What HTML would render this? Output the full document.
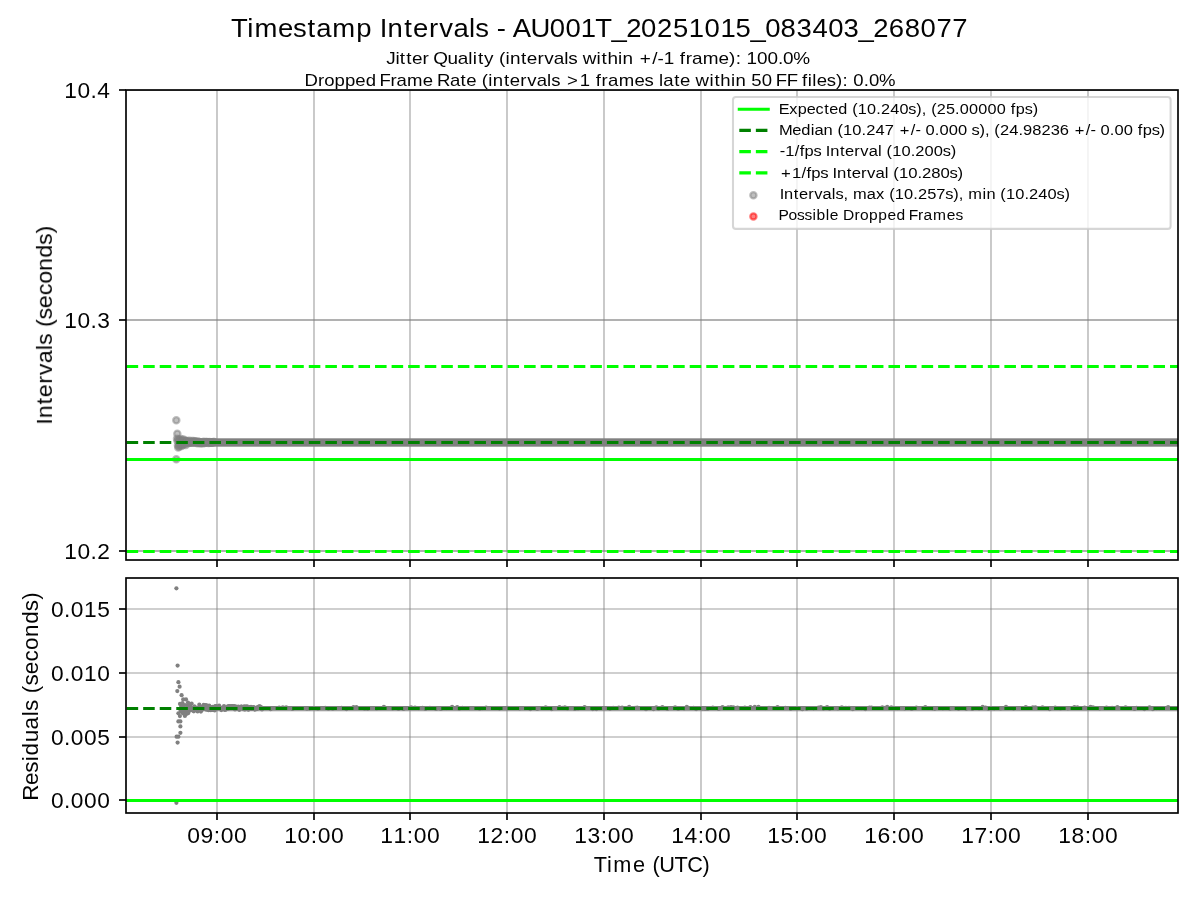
<!DOCTYPE html>
<html lang="en"><head><meta charset="utf-8"><title>Timestamp Intervals - AU001T_20251015_083403_268077</title>
<style>html,body{margin:0;padding:0;background:#fff;}body{width:1200px;height:900px;overflow:hidden;font-family:"Liberation Sans",sans-serif;}svg{display:block;}text{font-family:"Liberation Sans",sans-serif;fill:#000;}</style>
</head><body>
<svg width="1200" height="900" viewBox="0 0 1200 900">
<defs><clipPath id="c1"><rect x="126" y="90" width="1052" height="470"/></clipPath><clipPath id="c2"><rect x="126" y="578" width="1052" height="235"/></clipPath></defs>
<rect x="0" y="0" width="1200" height="900" fill="#ffffff"/>
<g clip-path="url(#c1)">
<line x1="217" y1="90" x2="217" y2="560" stroke="#808080" stroke-opacity="0.5" stroke-width="1.667"/>
<line x1="314" y1="90" x2="314" y2="560" stroke="#808080" stroke-opacity="0.5" stroke-width="1.667"/>
<line x1="410" y1="90" x2="410" y2="560" stroke="#808080" stroke-opacity="0.5" stroke-width="1.667"/>
<line x1="507" y1="90" x2="507" y2="560" stroke="#808080" stroke-opacity="0.5" stroke-width="1.667"/>
<line x1="604" y1="90" x2="604" y2="560" stroke="#808080" stroke-opacity="0.5" stroke-width="1.667"/>
<line x1="701" y1="90" x2="701" y2="560" stroke="#808080" stroke-opacity="0.5" stroke-width="1.667"/>
<line x1="797" y1="90" x2="797" y2="560" stroke="#808080" stroke-opacity="0.5" stroke-width="1.667"/>
<line x1="894" y1="90" x2="894" y2="560" stroke="#808080" stroke-opacity="0.5" stroke-width="1.667"/>
<line x1="991" y1="90" x2="991" y2="560" stroke="#808080" stroke-opacity="0.5" stroke-width="1.667"/>
<line x1="1088" y1="90" x2="1088" y2="560" stroke="#808080" stroke-opacity="0.5" stroke-width="1.667"/>
<line x1="126" y1="90" x2="1178" y2="90" stroke="#808080" stroke-opacity="0.5" stroke-width="1.667"/>
<line x1="126" y1="90" x2="1178" y2="90" stroke="#808080" stroke-opacity="0.5" stroke-width="1.667"/>
<line x1="126" y1="320" x2="1178" y2="320" stroke="#808080" stroke-opacity="0.5" stroke-width="1.667"/>
<line x1="126" y1="320" x2="1178" y2="320" stroke="#808080" stroke-opacity="0.5" stroke-width="1.667"/>
<line x1="126" y1="551" x2="1178" y2="551" stroke="#808080" stroke-opacity="0.5" stroke-width="1.667"/>
<line x1="126" y1="551" x2="1178" y2="551" stroke="#808080" stroke-opacity="0.5" stroke-width="1.667"/>
<circle cx="176.3" cy="420.3" r="3.10" fill="#808080" fill-opacity="0.5" stroke="#808080" stroke-opacity="0.5" stroke-width="2.30"/>
<circle cx="177.3" cy="433.7" r="3.10" fill="#808080" fill-opacity="0.5" stroke="#808080" stroke-opacity="0.5" stroke-width="2.30"/>
<circle cx="176.3" cy="459.3" r="3.10" fill="#808080" fill-opacity="0.5" stroke="#808080" stroke-opacity="0.5" stroke-width="2.30"/>
<circle cx="177.0" cy="438.8" r="3.10" fill="#808080" fill-opacity="0.5" stroke="#808080" stroke-opacity="0.5" stroke-width="2.30"/>
<circle cx="177.6" cy="441.0" r="3.10" fill="#808080" fill-opacity="0.5" stroke="#808080" stroke-opacity="0.5" stroke-width="2.30"/>
<circle cx="178.2" cy="447.6" r="3.10" fill="#808080" fill-opacity="0.5" stroke="#808080" stroke-opacity="0.5" stroke-width="2.30"/>
<circle cx="177.9" cy="445.2" r="3.10" fill="#808080" fill-opacity="0.5" stroke="#808080" stroke-opacity="0.5" stroke-width="2.30"/>
<circle cx="178.6" cy="439.6" r="3.10" fill="#808080" fill-opacity="0.5" stroke="#808080" stroke-opacity="0.5" stroke-width="2.30"/>
<circle cx="179.0" cy="443.0" r="3.10" fill="#808080" fill-opacity="0.5" stroke="#808080" stroke-opacity="0.5" stroke-width="2.30"/>
<circle cx="179.4" cy="446.6" r="3.10" fill="#808080" fill-opacity="0.5" stroke="#808080" stroke-opacity="0.5" stroke-width="2.30"/>
<circle cx="179.9" cy="440.2" r="3.10" fill="#808080" fill-opacity="0.5" stroke="#808080" stroke-opacity="0.5" stroke-width="2.30"/>
<circle cx="180.4" cy="444.4" r="3.10" fill="#808080" fill-opacity="0.5" stroke="#808080" stroke-opacity="0.5" stroke-width="2.30"/>
<circle cx="181.0" cy="438.9" r="3.10" fill="#808080" fill-opacity="0.5" stroke="#808080" stroke-opacity="0.5" stroke-width="2.30"/>
<circle cx="181.6" cy="446.0" r="3.10" fill="#808080" fill-opacity="0.5" stroke="#808080" stroke-opacity="0.5" stroke-width="2.30"/>
<circle cx="182.2" cy="441.5" r="3.10" fill="#808080" fill-opacity="0.5" stroke="#808080" stroke-opacity="0.5" stroke-width="2.30"/>
<circle cx="182.9" cy="445.0" r="3.10" fill="#808080" fill-opacity="0.5" stroke="#808080" stroke-opacity="0.5" stroke-width="2.30"/>
<circle cx="183.5" cy="439.6" r="3.10" fill="#808080" fill-opacity="0.5" stroke="#808080" stroke-opacity="0.5" stroke-width="2.30"/>
<circle cx="184.2" cy="443.7" r="3.10" fill="#808080" fill-opacity="0.5" stroke="#808080" stroke-opacity="0.5" stroke-width="2.30"/>
<circle cx="185.0" cy="440.4" r="3.10" fill="#808080" fill-opacity="0.5" stroke="#808080" stroke-opacity="0.5" stroke-width="2.30"/>
<circle cx="185.8" cy="445.1" r="3.10" fill="#808080" fill-opacity="0.5" stroke="#808080" stroke-opacity="0.5" stroke-width="2.30"/>
<circle cx="186.5" cy="441.2" r="3.10" fill="#808080" fill-opacity="0.5" stroke="#808080" stroke-opacity="0.5" stroke-width="2.30"/>
<circle cx="187.0" cy="441.7" r="3.10" fill="#808080" fill-opacity="0.5" stroke="#808080" stroke-opacity="0.5" stroke-width="2.30"/>
<circle cx="187.8" cy="440.9" r="3.10" fill="#808080" fill-opacity="0.5" stroke="#808080" stroke-opacity="0.5" stroke-width="2.30"/>
<circle cx="188.6" cy="443.1" r="3.10" fill="#808080" fill-opacity="0.5" stroke="#808080" stroke-opacity="0.5" stroke-width="2.30"/>
<circle cx="189.4" cy="440.8" r="3.10" fill="#808080" fill-opacity="0.5" stroke="#808080" stroke-opacity="0.5" stroke-width="2.30"/>
<circle cx="190.2" cy="442.6" r="3.10" fill="#808080" fill-opacity="0.5" stroke="#808080" stroke-opacity="0.5" stroke-width="2.30"/>
<circle cx="191.0" cy="442.0" r="3.10" fill="#808080" fill-opacity="0.5" stroke="#808080" stroke-opacity="0.5" stroke-width="2.30"/>
<circle cx="191.8" cy="441.0" r="3.10" fill="#808080" fill-opacity="0.5" stroke="#808080" stroke-opacity="0.5" stroke-width="2.30"/>
<circle cx="192.6" cy="442.5" r="3.10" fill="#808080" fill-opacity="0.5" stroke="#808080" stroke-opacity="0.5" stroke-width="2.30"/>
<circle cx="193.4" cy="441.1" r="3.10" fill="#808080" fill-opacity="0.5" stroke="#808080" stroke-opacity="0.5" stroke-width="2.30"/>
<circle cx="194.2" cy="442.3" r="3.10" fill="#808080" fill-opacity="0.5" stroke="#808080" stroke-opacity="0.5" stroke-width="2.30"/>
<circle cx="195.0" cy="441.3" r="3.10" fill="#808080" fill-opacity="0.5" stroke="#808080" stroke-opacity="0.5" stroke-width="2.30"/>
<circle cx="195.8" cy="441.4" r="3.10" fill="#808080" fill-opacity="0.5" stroke="#808080" stroke-opacity="0.5" stroke-width="2.30"/>
<circle cx="196.6" cy="442.3" r="3.10" fill="#808080" fill-opacity="0.5" stroke="#808080" stroke-opacity="0.5" stroke-width="2.30"/>
<circle cx="197.4" cy="443.3" r="3.10" fill="#808080" fill-opacity="0.5" stroke="#808080" stroke-opacity="0.5" stroke-width="2.30"/>
<circle cx="198.2" cy="441.6" r="3.10" fill="#808080" fill-opacity="0.5" stroke="#808080" stroke-opacity="0.5" stroke-width="2.30"/>
<circle cx="199.0" cy="441.9" r="3.10" fill="#808080" fill-opacity="0.5" stroke="#808080" stroke-opacity="0.5" stroke-width="2.30"/>
<circle cx="199.8" cy="442.8" r="3.10" fill="#808080" fill-opacity="0.5" stroke="#808080" stroke-opacity="0.5" stroke-width="2.30"/>
<circle cx="200.6" cy="443.4" r="3.10" fill="#808080" fill-opacity="0.5" stroke="#808080" stroke-opacity="0.5" stroke-width="2.30"/>
<circle cx="201.4" cy="442.6" r="3.10" fill="#808080" fill-opacity="0.5" stroke="#808080" stroke-opacity="0.5" stroke-width="2.30"/>
<circle cx="202.2" cy="442.3" r="3.10" fill="#808080" fill-opacity="0.5" stroke="#808080" stroke-opacity="0.5" stroke-width="2.30"/>
<circle cx="203.0" cy="443.3" r="3.10" fill="#808080" fill-opacity="0.5" stroke="#808080" stroke-opacity="0.5" stroke-width="2.30"/>
<circle cx="203.8" cy="441.8" r="3.10" fill="#808080" fill-opacity="0.5" stroke="#808080" stroke-opacity="0.5" stroke-width="2.30"/>
<circle cx="204.6" cy="443.1" r="3.10" fill="#808080" fill-opacity="0.5" stroke="#808080" stroke-opacity="0.5" stroke-width="2.30"/>
<circle cx="205.4" cy="442.2" r="3.10" fill="#808080" fill-opacity="0.5" stroke="#808080" stroke-opacity="0.5" stroke-width="2.30"/>
<circle cx="206.2" cy="442.0" r="3.10" fill="#808080" fill-opacity="0.5" stroke="#808080" stroke-opacity="0.5" stroke-width="2.30"/>
<circle cx="207.0" cy="442.0" r="3.10" fill="#808080" fill-opacity="0.5" stroke="#808080" stroke-opacity="0.5" stroke-width="2.30"/>
<circle cx="207.8" cy="442.3" r="3.10" fill="#808080" fill-opacity="0.5" stroke="#808080" stroke-opacity="0.5" stroke-width="2.30"/>
<circle cx="208.6" cy="442.9" r="3.10" fill="#808080" fill-opacity="0.5" stroke="#808080" stroke-opacity="0.5" stroke-width="2.30"/>
<circle cx="209.4" cy="442.1" r="3.10" fill="#808080" fill-opacity="0.5" stroke="#808080" stroke-opacity="0.5" stroke-width="2.30"/>
<circle cx="210.2" cy="442.6" r="3.10" fill="#808080" fill-opacity="0.5" stroke="#808080" stroke-opacity="0.5" stroke-width="2.30"/>
<circle cx="211.0" cy="442.7" r="3.10" fill="#808080" fill-opacity="0.5" stroke="#808080" stroke-opacity="0.5" stroke-width="2.30"/>
<circle cx="211.8" cy="442.4" r="3.10" fill="#808080" fill-opacity="0.5" stroke="#808080" stroke-opacity="0.5" stroke-width="2.30"/>
<circle cx="212.6" cy="442.5" r="3.10" fill="#808080" fill-opacity="0.5" stroke="#808080" stroke-opacity="0.5" stroke-width="2.30"/>
<circle cx="213.4" cy="442.1" r="3.10" fill="#808080" fill-opacity="0.5" stroke="#808080" stroke-opacity="0.5" stroke-width="2.30"/>
<circle cx="214.2" cy="442.1" r="3.10" fill="#808080" fill-opacity="0.5" stroke="#808080" stroke-opacity="0.5" stroke-width="2.30"/>
<rect x="186" y="438.3" width="998" height="8.4" fill="#808080"/>
<line x1="126" y1="459.5" x2="1178" y2="459.5" stroke="#00ff00" stroke-width="3.125"/>
<line x1="126" y1="442.5" x2="1178" y2="442.5" stroke="#008000" stroke-width="3.125" stroke-dasharray="11.562 5.000" stroke-dashoffset="-0.6"/>
<line x1="126" y1="551.5" x2="1178" y2="551.5" stroke="#00ff00" stroke-width="3.125" stroke-dasharray="11.562 5.000" stroke-dashoffset="-0.6"/>
<line x1="126" y1="366.5" x2="1178" y2="366.5" stroke="#00ff00" stroke-width="3.125" stroke-dasharray="11.562 5.000" stroke-dashoffset="-0.6"/>
</g>
<line x1="217" y1="560" x2="217" y2="567.00" stroke="#000" stroke-width="1.667"/>
<line x1="314" y1="560" x2="314" y2="567.00" stroke="#000" stroke-width="1.667"/>
<line x1="410" y1="560" x2="410" y2="567.00" stroke="#000" stroke-width="1.667"/>
<line x1="507" y1="560" x2="507" y2="567.00" stroke="#000" stroke-width="1.667"/>
<line x1="604" y1="560" x2="604" y2="567.00" stroke="#000" stroke-width="1.667"/>
<line x1="701" y1="560" x2="701" y2="567.00" stroke="#000" stroke-width="1.667"/>
<line x1="797" y1="560" x2="797" y2="567.00" stroke="#000" stroke-width="1.667"/>
<line x1="894" y1="560" x2="894" y2="567.00" stroke="#000" stroke-width="1.667"/>
<line x1="991" y1="560" x2="991" y2="567.00" stroke="#000" stroke-width="1.667"/>
<line x1="1088" y1="560" x2="1088" y2="567.00" stroke="#000" stroke-width="1.667"/>
<line x1="119.00" y1="90" x2="126" y2="90" stroke="#000" stroke-width="1.667"/>
<line x1="119.00" y1="320" x2="126" y2="320" stroke="#000" stroke-width="1.667"/>
<line x1="119.00" y1="551" x2="126" y2="551" stroke="#000" stroke-width="1.667"/>
<rect x="126" y="90" width="1052" height="470" fill="none" stroke="#000" stroke-width="1.667"/>
<rect x="733.0" y="97.0" width="437.6" height="131.9" rx="2.9" ry="2.9" fill="#ffffff" fill-opacity="0.8" stroke="#cccccc" stroke-opacity="0.8" stroke-width="2.08"/>
<line x1="739.3" y1="109.2" x2="768.2" y2="109.2" stroke="#00ff00" stroke-width="3.125" stroke-linecap="square"/>
<line x1="739.3" y1="130.4" x2="768.2" y2="130.4" stroke="#008000" stroke-width="3.125" stroke-dasharray="11.562 5.000"/>
<line x1="739.3" y1="151.6" x2="768.2" y2="151.6" stroke="#00ff00" stroke-width="3.125" stroke-dasharray="11.562 5.000"/>
<line x1="739.3" y1="172.9" x2="768.2" y2="172.9" stroke="#00ff00" stroke-width="3.125" stroke-dasharray="11.562 5.000"/>
<circle cx="753.4" cy="195.3" r="3.10" fill="#808080" fill-opacity="0.5" stroke="#808080" stroke-opacity="0.5" stroke-width="2.30"/>
<circle cx="753.4" cy="216.4" r="3.10" fill="#ff0000" fill-opacity="0.5" stroke="#ff0000" stroke-opacity="0.5" stroke-width="2.30"/>
<g clip-path="url(#c2)">
<line x1="217" y1="578" x2="217" y2="813" stroke="#808080" stroke-opacity="0.5" stroke-width="1.667"/>
<line x1="314" y1="578" x2="314" y2="813" stroke="#808080" stroke-opacity="0.5" stroke-width="1.667"/>
<line x1="410" y1="578" x2="410" y2="813" stroke="#808080" stroke-opacity="0.5" stroke-width="1.667"/>
<line x1="507" y1="578" x2="507" y2="813" stroke="#808080" stroke-opacity="0.5" stroke-width="1.667"/>
<line x1="604" y1="578" x2="604" y2="813" stroke="#808080" stroke-opacity="0.5" stroke-width="1.667"/>
<line x1="701" y1="578" x2="701" y2="813" stroke="#808080" stroke-opacity="0.5" stroke-width="1.667"/>
<line x1="797" y1="578" x2="797" y2="813" stroke="#808080" stroke-opacity="0.5" stroke-width="1.667"/>
<line x1="894" y1="578" x2="894" y2="813" stroke="#808080" stroke-opacity="0.5" stroke-width="1.667"/>
<line x1="991" y1="578" x2="991" y2="813" stroke="#808080" stroke-opacity="0.5" stroke-width="1.667"/>
<line x1="1088" y1="578" x2="1088" y2="813" stroke="#808080" stroke-opacity="0.5" stroke-width="1.667"/>
<line x1="126" y1="609" x2="1178" y2="609" stroke="#808080" stroke-opacity="0.5" stroke-width="1.667"/>
<line x1="126" y1="673" x2="1178" y2="673" stroke="#808080" stroke-opacity="0.5" stroke-width="1.667"/>
<line x1="126" y1="737" x2="1178" y2="737" stroke="#808080" stroke-opacity="0.5" stroke-width="1.667"/>
<line x1="126" y1="800" x2="1178" y2="800" stroke="#808080" stroke-opacity="0.5" stroke-width="1.667"/>
<circle cx="176.4" cy="588.3" r="2.1" fill="#808080"/>
<circle cx="177.6" cy="665.6" r="2.1" fill="#808080"/>
<circle cx="178.4" cy="682.2" r="2.1" fill="#808080"/>
<circle cx="179.6" cy="686.7" r="2.1" fill="#808080"/>
<circle cx="177.3" cy="691.1" r="2.1" fill="#808080"/>
<circle cx="181.6" cy="695.2" r="2.1" fill="#808080"/>
<circle cx="183.2" cy="699.4" r="2.1" fill="#808080"/>
<circle cx="186.0" cy="699.4" r="2.1" fill="#808080"/>
<circle cx="178.4" cy="713.3" r="2.1" fill="#808080"/>
<circle cx="179.9" cy="716.1" r="2.1" fill="#808080"/>
<circle cx="184.9" cy="716.0" r="2.1" fill="#808080"/>
<circle cx="178.4" cy="721.4" r="2.1" fill="#808080"/>
<circle cx="180.4" cy="721.4" r="2.1" fill="#808080"/>
<circle cx="180.4" cy="726.4" r="2.1" fill="#808080"/>
<circle cx="180.4" cy="732.8" r="2.1" fill="#808080"/>
<circle cx="176.6" cy="736.7" r="2.1" fill="#808080"/>
<circle cx="178.4" cy="736.7" r="2.1" fill="#808080"/>
<circle cx="177.6" cy="742.6" r="2.1" fill="#808080"/>
<circle cx="176.4" cy="802.8" r="2.1" fill="#808080"/>
<circle cx="182.5" cy="703.0" r="2.1" fill="#808080"/>
<circle cx="181.0" cy="711.5" r="2.1" fill="#808080"/>
<circle cx="183.0" cy="713.5" r="2.1" fill="#808080"/>
<circle cx="186.5" cy="714.0" r="2.1" fill="#808080"/>
<circle cx="188.0" cy="702.5" r="2.1" fill="#808080"/>
<circle cx="180.0" cy="703.9" r="2.1" fill="#808080"/>
<circle cx="180.6" cy="710.5" r="2.1" fill="#808080"/>
<circle cx="181.1" cy="707.0" r="2.1" fill="#808080"/>
<circle cx="181.7" cy="705.5" r="2.1" fill="#808080"/>
<circle cx="182.2" cy="709.1" r="2.1" fill="#808080"/>
<circle cx="182.8" cy="707.4" r="2.1" fill="#808080"/>
<circle cx="183.3" cy="705.5" r="2.1" fill="#808080"/>
<circle cx="183.9" cy="711.6" r="2.1" fill="#808080"/>
<circle cx="184.4" cy="710.4" r="2.1" fill="#808080"/>
<circle cx="185.0" cy="705.0" r="2.1" fill="#808080"/>
<circle cx="185.5" cy="708.9" r="2.1" fill="#808080"/>
<circle cx="186.1" cy="708.3" r="2.1" fill="#808080"/>
<circle cx="186.6" cy="712.2" r="2.1" fill="#808080"/>
<circle cx="187.2" cy="710.5" r="2.1" fill="#808080"/>
<circle cx="187.7" cy="705.7" r="2.1" fill="#808080"/>
<circle cx="188.3" cy="713.1" r="2.1" fill="#808080"/>
<circle cx="188.8" cy="704.0" r="2.1" fill="#808080"/>
<circle cx="189.4" cy="707.2" r="2.1" fill="#808080"/>
<circle cx="189.9" cy="710.6" r="2.1" fill="#808080"/>
<circle cx="190.5" cy="704.6" r="2.1" fill="#808080"/>
<circle cx="191.0" cy="707.9" r="2.1" fill="#808080"/>
<circle cx="191.6" cy="703.6" r="2.1" fill="#808080"/>
<circle cx="192.1" cy="709.6" r="2.1" fill="#808080"/>
<circle cx="192.7" cy="710.4" r="2.1" fill="#808080"/>
<circle cx="193.2" cy="708.7" r="2.1" fill="#808080"/>
<circle cx="193.8" cy="711.3" r="2.1" fill="#808080"/>
<circle cx="194.3" cy="706.4" r="2.1" fill="#808080"/>
<circle cx="194.9" cy="709.7" r="2.1" fill="#808080"/>
<circle cx="195.4" cy="708.8" r="2.1" fill="#808080"/>
<circle cx="196.0" cy="708.7" r="2.1" fill="#808080"/>
<circle cx="196.5" cy="707.6" r="2.1" fill="#808080"/>
<circle cx="197.1" cy="710.7" r="2.1" fill="#808080"/>
<circle cx="197.6" cy="711.5" r="2.1" fill="#808080"/>
<circle cx="198.2" cy="707.8" r="2.1" fill="#808080"/>
<circle cx="198.7" cy="709.3" r="2.1" fill="#808080"/>
<circle cx="199.3" cy="704.7" r="2.1" fill="#808080"/>
<circle cx="199.8" cy="709.5" r="2.1" fill="#808080"/>
<circle cx="200.4" cy="709.1" r="2.1" fill="#808080"/>
<circle cx="200.9" cy="711.6" r="2.1" fill="#808080"/>
<circle cx="201.5" cy="710.3" r="2.1" fill="#808080"/>
<circle cx="202.0" cy="706.5" r="2.1" fill="#808080"/>
<circle cx="202.6" cy="707.2" r="2.1" fill="#808080"/>
<circle cx="203.1" cy="709.2" r="2.1" fill="#808080"/>
<circle cx="203.7" cy="704.8" r="2.1" fill="#808080"/>
<circle cx="204.2" cy="707.7" r="2.1" fill="#808080"/>
<circle cx="204.8" cy="705.8" r="2.1" fill="#808080"/>
<circle cx="205.3" cy="705.5" r="2.1" fill="#808080"/>
<circle cx="205.9" cy="705.2" r="2.1" fill="#808080"/>
<circle cx="206.4" cy="709.7" r="2.1" fill="#808080"/>
<circle cx="207.0" cy="705.7" r="2.1" fill="#808080"/>
<circle cx="207.5" cy="706.4" r="2.1" fill="#808080"/>
<circle cx="208.1" cy="707.3" r="2.1" fill="#808080"/>
<circle cx="208.6" cy="710.2" r="2.1" fill="#808080"/>
<circle cx="209.2" cy="705.5" r="2.1" fill="#808080"/>
<circle cx="209.7" cy="707.7" r="2.1" fill="#808080"/>
<circle cx="210.3" cy="708.3" r="2.1" fill="#808080"/>
<circle cx="210.8" cy="710.2" r="2.1" fill="#808080"/>
<circle cx="211.4" cy="709.8" r="2.1" fill="#808080"/>
<circle cx="211.9" cy="710.0" r="2.1" fill="#808080"/>
<circle cx="212.5" cy="706.8" r="2.1" fill="#808080"/>
<circle cx="213.0" cy="707.5" r="2.1" fill="#808080"/>
<circle cx="213.6" cy="707.2" r="2.1" fill="#808080"/>
<circle cx="214.1" cy="710.0" r="2.1" fill="#808080"/>
<circle cx="214.7" cy="710.4" r="2.1" fill="#808080"/>
<circle cx="215.2" cy="706.2" r="2.1" fill="#808080"/>
<circle cx="215.8" cy="706.3" r="2.1" fill="#808080"/>
<circle cx="216.3" cy="706.6" r="2.1" fill="#808080"/>
<circle cx="216.9" cy="706.7" r="2.1" fill="#808080"/>
<circle cx="217.4" cy="707.9" r="2.1" fill="#808080"/>
<circle cx="218.0" cy="708.4" r="2.1" fill="#808080"/>
<circle cx="218.5" cy="706.8" r="2.1" fill="#808080"/>
<circle cx="219.1" cy="705.6" r="2.1" fill="#808080"/>
<circle cx="219.6" cy="707.6" r="2.1" fill="#808080"/>
<circle cx="220.2" cy="707.4" r="2.1" fill="#808080"/>
<circle cx="220.7" cy="708.3" r="2.1" fill="#808080"/>
<circle cx="221.3" cy="710.1" r="2.1" fill="#808080"/>
<circle cx="221.8" cy="708.9" r="2.1" fill="#808080"/>
<circle cx="222.4" cy="708.1" r="2.1" fill="#808080"/>
<circle cx="222.9" cy="708.5" r="2.1" fill="#808080"/>
<circle cx="223.5" cy="708.8" r="2.1" fill="#808080"/>
<circle cx="224.0" cy="706.0" r="2.1" fill="#808080"/>
<circle cx="224.6" cy="709.8" r="2.1" fill="#808080"/>
<circle cx="225.1" cy="709.2" r="2.1" fill="#808080"/>
<circle cx="225.7" cy="709.6" r="2.1" fill="#808080"/>
<circle cx="226.2" cy="709.3" r="2.1" fill="#808080"/>
<circle cx="226.8" cy="707.5" r="2.1" fill="#808080"/>
<circle cx="227.3" cy="707.6" r="2.1" fill="#808080"/>
<circle cx="227.9" cy="706.3" r="2.1" fill="#808080"/>
<circle cx="228.4" cy="708.6" r="2.1" fill="#808080"/>
<circle cx="229.0" cy="706.2" r="2.1" fill="#808080"/>
<circle cx="229.5" cy="706.2" r="2.1" fill="#808080"/>
<circle cx="230.1" cy="706.8" r="2.1" fill="#808080"/>
<circle cx="230.6" cy="706.6" r="2.1" fill="#808080"/>
<circle cx="231.2" cy="707.3" r="2.1" fill="#808080"/>
<circle cx="231.7" cy="706.2" r="2.1" fill="#808080"/>
<circle cx="232.3" cy="706.0" r="2.1" fill="#808080"/>
<circle cx="232.8" cy="706.6" r="2.1" fill="#808080"/>
<circle cx="233.4" cy="706.4" r="2.1" fill="#808080"/>
<circle cx="233.9" cy="707.5" r="2.1" fill="#808080"/>
<circle cx="234.5" cy="706.1" r="2.1" fill="#808080"/>
<circle cx="235.0" cy="709.5" r="2.1" fill="#808080"/>
<circle cx="235.6" cy="708.4" r="2.1" fill="#808080"/>
<circle cx="236.1" cy="706.6" r="2.1" fill="#808080"/>
<circle cx="236.7" cy="707.0" r="2.1" fill="#808080"/>
<circle cx="237.2" cy="707.4" r="2.1" fill="#808080"/>
<circle cx="237.8" cy="707.5" r="2.1" fill="#808080"/>
<circle cx="238.3" cy="706.6" r="2.1" fill="#808080"/>
<circle cx="238.9" cy="709.3" r="2.1" fill="#808080"/>
<circle cx="239.4" cy="709.8" r="2.1" fill="#808080"/>
<circle cx="240.0" cy="707.9" r="2.1" fill="#808080"/>
<circle cx="240.5" cy="707.9" r="2.1" fill="#808080"/>
<circle cx="241.1" cy="706.5" r="2.1" fill="#808080"/>
<circle cx="241.6" cy="706.5" r="2.1" fill="#808080"/>
<circle cx="242.2" cy="707.4" r="2.1" fill="#808080"/>
<circle cx="242.7" cy="707.1" r="2.1" fill="#808080"/>
<circle cx="243.3" cy="709.2" r="2.1" fill="#808080"/>
<circle cx="243.8" cy="706.8" r="2.1" fill="#808080"/>
<circle cx="244.4" cy="706.3" r="2.1" fill="#808080"/>
<circle cx="244.9" cy="709.6" r="2.1" fill="#808080"/>
<circle cx="245.5" cy="708.1" r="2.1" fill="#808080"/>
<circle cx="246.0" cy="706.7" r="2.1" fill="#808080"/>
<circle cx="246.6" cy="708.2" r="2.1" fill="#808080"/>
<circle cx="247.1" cy="706.3" r="2.1" fill="#808080"/>
<circle cx="247.7" cy="708.1" r="2.1" fill="#808080"/>
<circle cx="248.2" cy="709.7" r="2.1" fill="#808080"/>
<circle cx="248.8" cy="709.3" r="2.1" fill="#808080"/>
<circle cx="249.3" cy="708.7" r="2.1" fill="#808080"/>
<circle cx="249.9" cy="707.2" r="2.1" fill="#808080"/>
<circle cx="250.4" cy="707.5" r="2.1" fill="#808080"/>
<circle cx="251.0" cy="706.9" r="2.1" fill="#808080"/>
<circle cx="251.5" cy="708.9" r="2.1" fill="#808080"/>
<circle cx="252.1" cy="708.1" r="2.1" fill="#808080"/>
<circle cx="252.6" cy="709.0" r="2.1" fill="#808080"/>
<circle cx="253.2" cy="707.4" r="2.1" fill="#808080"/>
<circle cx="253.7" cy="707.1" r="2.1" fill="#808080"/>
<circle cx="254.3" cy="709.1" r="2.1" fill="#808080"/>
<circle cx="254.8" cy="709.6" r="2.1" fill="#808080"/>
<circle cx="255.4" cy="709.2" r="2.1" fill="#808080"/>
<circle cx="255.9" cy="709.0" r="2.1" fill="#808080"/>
<circle cx="256.5" cy="709.1" r="2.1" fill="#808080"/>
<circle cx="257.0" cy="708.8" r="2.1" fill="#808080"/>
<circle cx="257.6" cy="707.1" r="2.1" fill="#808080"/>
<circle cx="258.1" cy="708.1" r="2.1" fill="#808080"/>
<circle cx="258.7" cy="707.5" r="2.1" fill="#808080"/>
<circle cx="259.2" cy="706.4" r="2.1" fill="#808080"/>
<circle cx="259.8" cy="706.4" r="2.1" fill="#808080"/>
<circle cx="260.3" cy="707.3" r="2.1" fill="#808080"/>
<circle cx="260.9" cy="707.2" r="2.1" fill="#808080"/>
<circle cx="261.4" cy="708.6" r="2.1" fill="#808080"/>
<circle cx="262.0" cy="709.5" r="2.1" fill="#808080"/>
<circle cx="262.0" cy="707.9" r="2.1" fill="#808080"/>
<circle cx="270.6" cy="709.2" r="2.1" fill="#808080"/>
<circle cx="279.2" cy="707.7" r="2.1" fill="#808080"/>
<circle cx="282.8" cy="707.3" r="2.1" fill="#808080"/>
<circle cx="286.2" cy="707.3" r="2.1" fill="#808080"/>
<circle cx="292.5" cy="709.0" r="2.1" fill="#808080"/>
<circle cx="300.4" cy="708.0" r="2.1" fill="#808080"/>
<circle cx="307.0" cy="708.7" r="2.1" fill="#808080"/>
<circle cx="309.6" cy="708.4" r="2.1" fill="#808080"/>
<circle cx="317.9" cy="708.7" r="2.1" fill="#808080"/>
<circle cx="325.2" cy="707.9" r="2.1" fill="#808080"/>
<circle cx="328.4" cy="708.7" r="2.1" fill="#808080"/>
<circle cx="332.8" cy="708.7" r="2.1" fill="#808080"/>
<circle cx="341.6" cy="707.8" r="2.1" fill="#808080"/>
<circle cx="346.4" cy="709.1" r="2.1" fill="#808080"/>
<circle cx="353.5" cy="707.2" r="2.1" fill="#808080"/>
<circle cx="356.4" cy="707.2" r="2.1" fill="#808080"/>
<circle cx="364.7" cy="708.7" r="2.1" fill="#808080"/>
<circle cx="367.7" cy="708.8" r="2.1" fill="#808080"/>
<circle cx="376.6" cy="708.4" r="2.1" fill="#808080"/>
<circle cx="381.0" cy="708.1" r="2.1" fill="#808080"/>
<circle cx="383.9" cy="706.8" r="2.1" fill="#808080"/>
<circle cx="392.7" cy="708.4" r="2.1" fill="#808080"/>
<circle cx="398.4" cy="709.0" r="2.1" fill="#808080"/>
<circle cx="403.5" cy="708.9" r="2.1" fill="#808080"/>
<circle cx="411.2" cy="707.3" r="2.1" fill="#808080"/>
<circle cx="415.0" cy="707.5" r="2.1" fill="#808080"/>
<circle cx="418.7" cy="708.2" r="2.1" fill="#808080"/>
<circle cx="422.5" cy="707.8" r="2.1" fill="#808080"/>
<circle cx="425.4" cy="709.0" r="2.1" fill="#808080"/>
<circle cx="429.9" cy="707.9" r="2.1" fill="#808080"/>
<circle cx="436.0" cy="709.0" r="2.1" fill="#808080"/>
<circle cx="440.9" cy="709.0" r="2.1" fill="#808080"/>
<circle cx="446.4" cy="708.1" r="2.1" fill="#808080"/>
<circle cx="452.1" cy="706.8" r="2.1" fill="#808080"/>
<circle cx="457.2" cy="707.2" r="2.1" fill="#808080"/>
<circle cx="459.2" cy="708.7" r="2.1" fill="#808080"/>
<circle cx="462.4" cy="707.9" r="2.1" fill="#808080"/>
<circle cx="469.5" cy="708.1" r="2.1" fill="#808080"/>
<circle cx="473.8" cy="708.0" r="2.1" fill="#808080"/>
<circle cx="479.7" cy="708.7" r="2.1" fill="#808080"/>
<circle cx="482.4" cy="708.1" r="2.1" fill="#808080"/>
<circle cx="486.1" cy="707.5" r="2.1" fill="#808080"/>
<circle cx="493.6" cy="708.0" r="2.1" fill="#808080"/>
<circle cx="499.5" cy="708.6" r="2.1" fill="#808080"/>
<circle cx="507.9" cy="707.9" r="2.1" fill="#808080"/>
<circle cx="514.2" cy="708.0" r="2.1" fill="#808080"/>
<circle cx="519.7" cy="708.5" r="2.1" fill="#808080"/>
<circle cx="524.9" cy="708.1" r="2.1" fill="#808080"/>
<circle cx="530.3" cy="709.1" r="2.1" fill="#808080"/>
<circle cx="537.2" cy="708.9" r="2.1" fill="#808080"/>
<circle cx="545.7" cy="707.4" r="2.1" fill="#808080"/>
<circle cx="551.7" cy="709.1" r="2.1" fill="#808080"/>
<circle cx="559.5" cy="707.1" r="2.1" fill="#808080"/>
<circle cx="562.4" cy="707.9" r="2.1" fill="#808080"/>
<circle cx="564.9" cy="707.4" r="2.1" fill="#808080"/>
<circle cx="567.4" cy="708.4" r="2.1" fill="#808080"/>
<circle cx="574.9" cy="709.0" r="2.1" fill="#808080"/>
<circle cx="578.0" cy="708.5" r="2.1" fill="#808080"/>
<circle cx="584.6" cy="707.1" r="2.1" fill="#808080"/>
<circle cx="592.8" cy="709.1" r="2.1" fill="#808080"/>
<circle cx="596.3" cy="709.1" r="2.1" fill="#808080"/>
<circle cx="601.1" cy="708.0" r="2.1" fill="#808080"/>
<circle cx="610.0" cy="708.8" r="2.1" fill="#808080"/>
<circle cx="613.2" cy="707.8" r="2.1" fill="#808080"/>
<circle cx="618.8" cy="707.6" r="2.1" fill="#808080"/>
<circle cx="622.1" cy="707.6" r="2.1" fill="#808080"/>
<circle cx="629.2" cy="706.8" r="2.1" fill="#808080"/>
<circle cx="635.1" cy="707.9" r="2.1" fill="#808080"/>
<circle cx="637.2" cy="707.6" r="2.1" fill="#808080"/>
<circle cx="643.6" cy="708.0" r="2.1" fill="#808080"/>
<circle cx="646.0" cy="709.2" r="2.1" fill="#808080"/>
<circle cx="653.5" cy="709.1" r="2.1" fill="#808080"/>
<circle cx="656.3" cy="707.4" r="2.1" fill="#808080"/>
<circle cx="658.6" cy="708.7" r="2.1" fill="#808080"/>
<circle cx="662.4" cy="707.1" r="2.1" fill="#808080"/>
<circle cx="667.4" cy="709.0" r="2.1" fill="#808080"/>
<circle cx="675.1" cy="707.4" r="2.1" fill="#808080"/>
<circle cx="678.2" cy="709.0" r="2.1" fill="#808080"/>
<circle cx="684.2" cy="708.5" r="2.1" fill="#808080"/>
<circle cx="686.8" cy="706.9" r="2.1" fill="#808080"/>
<circle cx="693.6" cy="707.8" r="2.1" fill="#808080"/>
<circle cx="696.1" cy="709.1" r="2.1" fill="#808080"/>
<circle cx="702.6" cy="708.7" r="2.1" fill="#808080"/>
<circle cx="705.2" cy="708.9" r="2.1" fill="#808080"/>
<circle cx="707.6" cy="708.9" r="2.1" fill="#808080"/>
<circle cx="712.8" cy="707.6" r="2.1" fill="#808080"/>
<circle cx="718.7" cy="709.0" r="2.1" fill="#808080"/>
<circle cx="722.5" cy="707.1" r="2.1" fill="#808080"/>
<circle cx="728.2" cy="707.4" r="2.1" fill="#808080"/>
<circle cx="731.0" cy="707.2" r="2.1" fill="#808080"/>
<circle cx="733.4" cy="707.3" r="2.1" fill="#808080"/>
<circle cx="737.5" cy="707.5" r="2.1" fill="#808080"/>
<circle cx="744.9" cy="707.5" r="2.1" fill="#808080"/>
<circle cx="750.4" cy="707.2" r="2.1" fill="#808080"/>
<circle cx="754.8" cy="706.8" r="2.1" fill="#808080"/>
<circle cx="758.5" cy="706.8" r="2.1" fill="#808080"/>
<circle cx="765.7" cy="708.1" r="2.1" fill="#808080"/>
<circle cx="769.0" cy="707.9" r="2.1" fill="#808080"/>
<circle cx="777.5" cy="707.1" r="2.1" fill="#808080"/>
<circle cx="785.3" cy="707.8" r="2.1" fill="#808080"/>
<circle cx="790.7" cy="708.8" r="2.1" fill="#808080"/>
<circle cx="795.5" cy="708.0" r="2.1" fill="#808080"/>
<circle cx="802.3" cy="709.2" r="2.1" fill="#808080"/>
<circle cx="806.7" cy="708.8" r="2.1" fill="#808080"/>
<circle cx="813.6" cy="708.3" r="2.1" fill="#808080"/>
<circle cx="818.5" cy="707.6" r="2.1" fill="#808080"/>
<circle cx="820.9" cy="707.1" r="2.1" fill="#808080"/>
<circle cx="823.4" cy="708.6" r="2.1" fill="#808080"/>
<circle cx="827.1" cy="707.2" r="2.1" fill="#808080"/>
<circle cx="829.7" cy="708.8" r="2.1" fill="#808080"/>
<circle cx="837.8" cy="708.4" r="2.1" fill="#808080"/>
<circle cx="841.8" cy="707.4" r="2.1" fill="#808080"/>
<circle cx="845.9" cy="707.9" r="2.1" fill="#808080"/>
<circle cx="849.0" cy="707.9" r="2.1" fill="#808080"/>
<circle cx="852.8" cy="709.1" r="2.1" fill="#808080"/>
<circle cx="861.6" cy="708.1" r="2.1" fill="#808080"/>
<circle cx="865.3" cy="709.1" r="2.1" fill="#808080"/>
<circle cx="869.5" cy="707.7" r="2.1" fill="#808080"/>
<circle cx="871.5" cy="707.7" r="2.1" fill="#808080"/>
<circle cx="876.8" cy="708.0" r="2.1" fill="#808080"/>
<circle cx="880.2" cy="708.0" r="2.1" fill="#808080"/>
<circle cx="882.3" cy="707.4" r="2.1" fill="#808080"/>
<circle cx="884.9" cy="707.8" r="2.1" fill="#808080"/>
<circle cx="887.2" cy="706.9" r="2.1" fill="#808080"/>
<circle cx="891.3" cy="707.4" r="2.1" fill="#808080"/>
<circle cx="897.4" cy="708.1" r="2.1" fill="#808080"/>
<circle cx="904.7" cy="708.4" r="2.1" fill="#808080"/>
<circle cx="911.7" cy="708.9" r="2.1" fill="#808080"/>
<circle cx="916.4" cy="707.6" r="2.1" fill="#808080"/>
<circle cx="925.3" cy="707.2" r="2.1" fill="#808080"/>
<circle cx="932.4" cy="708.3" r="2.1" fill="#808080"/>
<circle cx="934.7" cy="708.8" r="2.1" fill="#808080"/>
<circle cx="942.9" cy="708.3" r="2.1" fill="#808080"/>
<circle cx="950.0" cy="708.7" r="2.1" fill="#808080"/>
<circle cx="953.0" cy="708.1" r="2.1" fill="#808080"/>
<circle cx="958.6" cy="708.8" r="2.1" fill="#808080"/>
<circle cx="966.2" cy="708.8" r="2.1" fill="#808080"/>
<circle cx="972.3" cy="708.9" r="2.1" fill="#808080"/>
<circle cx="979.1" cy="708.5" r="2.1" fill="#808080"/>
<circle cx="982.7" cy="706.9" r="2.1" fill="#808080"/>
<circle cx="985.6" cy="707.7" r="2.1" fill="#808080"/>
<circle cx="988.3" cy="708.8" r="2.1" fill="#808080"/>
<circle cx="994.2" cy="708.3" r="2.1" fill="#808080"/>
<circle cx="1000.6" cy="708.4" r="2.1" fill="#808080"/>
<circle cx="1006.0" cy="706.8" r="2.1" fill="#808080"/>
<circle cx="1013.6" cy="708.6" r="2.1" fill="#808080"/>
<circle cx="1019.2" cy="708.1" r="2.1" fill="#808080"/>
<circle cx="1025.8" cy="707.0" r="2.1" fill="#808080"/>
<circle cx="1032.9" cy="707.4" r="2.1" fill="#808080"/>
<circle cx="1035.4" cy="707.4" r="2.1" fill="#808080"/>
<circle cx="1042.5" cy="707.3" r="2.1" fill="#808080"/>
<circle cx="1049.7" cy="709.1" r="2.1" fill="#808080"/>
<circle cx="1055.2" cy="707.7" r="2.1" fill="#808080"/>
<circle cx="1060.5" cy="708.4" r="2.1" fill="#808080"/>
<circle cx="1067.9" cy="708.3" r="2.1" fill="#808080"/>
<circle cx="1074.4" cy="707.0" r="2.1" fill="#808080"/>
<circle cx="1077.4" cy="707.4" r="2.1" fill="#808080"/>
<circle cx="1084.6" cy="707.5" r="2.1" fill="#808080"/>
<circle cx="1090.6" cy="706.8" r="2.1" fill="#808080"/>
<circle cx="1093.0" cy="707.4" r="2.1" fill="#808080"/>
<circle cx="1099.7" cy="708.5" r="2.1" fill="#808080"/>
<circle cx="1106.5" cy="707.5" r="2.1" fill="#808080"/>
<circle cx="1112.1" cy="707.9" r="2.1" fill="#808080"/>
<circle cx="1117.4" cy="707.1" r="2.1" fill="#808080"/>
<circle cx="1125.6" cy="707.3" r="2.1" fill="#808080"/>
<circle cx="1134.5" cy="709.0" r="2.1" fill="#808080"/>
<circle cx="1136.6" cy="707.9" r="2.1" fill="#808080"/>
<circle cx="1144.3" cy="709.1" r="2.1" fill="#808080"/>
<circle cx="1149.5" cy="707.4" r="2.1" fill="#808080"/>
<circle cx="1152.9" cy="709.1" r="2.1" fill="#808080"/>
<circle cx="1156.4" cy="708.2" r="2.1" fill="#808080"/>
<circle cx="1159.4" cy="708.1" r="2.1" fill="#808080"/>
<circle cx="1168.1" cy="707.1" r="2.1" fill="#808080"/>
<circle cx="1175.8" cy="708.0" r="2.1" fill="#808080"/>
<rect x="188" y="706.0" width="996" height="4.7" fill="#808080"/>
<rect x="188" y="710.7" width="996" height="0.7" fill="#808080" fill-opacity="0.55"/>
<line x1="126" y1="800.5" x2="1178" y2="800.5" stroke="#00ff00" stroke-width="3.125"/>
<line x1="126" y1="708.5" x2="1178" y2="708.5" stroke="#008000" stroke-width="3.125" stroke-dasharray="11.562 5.000" stroke-dashoffset="-0.6"/>
</g>
<line x1="217" y1="813" x2="217" y2="820.00" stroke="#000" stroke-width="1.667"/>
<line x1="314" y1="813" x2="314" y2="820.00" stroke="#000" stroke-width="1.667"/>
<line x1="410" y1="813" x2="410" y2="820.00" stroke="#000" stroke-width="1.667"/>
<line x1="507" y1="813" x2="507" y2="820.00" stroke="#000" stroke-width="1.667"/>
<line x1="604" y1="813" x2="604" y2="820.00" stroke="#000" stroke-width="1.667"/>
<line x1="701" y1="813" x2="701" y2="820.00" stroke="#000" stroke-width="1.667"/>
<line x1="797" y1="813" x2="797" y2="820.00" stroke="#000" stroke-width="1.667"/>
<line x1="894" y1="813" x2="894" y2="820.00" stroke="#000" stroke-width="1.667"/>
<line x1="991" y1="813" x2="991" y2="820.00" stroke="#000" stroke-width="1.667"/>
<line x1="1088" y1="813" x2="1088" y2="820.00" stroke="#000" stroke-width="1.667"/>
<line x1="119.00" y1="609" x2="126" y2="609" stroke="#000" stroke-width="1.667"/>
<line x1="119.00" y1="673" x2="126" y2="673" stroke="#000" stroke-width="1.667"/>
<line x1="119.00" y1="737" x2="126" y2="737" stroke="#000" stroke-width="1.667"/>
<line x1="119.00" y1="800" x2="126" y2="800" stroke="#000" stroke-width="1.667"/>
<rect x="126" y="578" width="1052" height="235" fill="none" stroke="#000" stroke-width="1.667"/>
<g opacity="0.99">
<text transform="translate(0,37.30) scale(1.0518,1)" x="219.54 235.02 241.89 264.41 278.69 292.46 300.71 315.93 338.68 353.67 361.03 368.51 384.33 392.63 407.79 417.55 431.08 446.02 451.96 464.90 472.32 481.18 487.54 504.43 522.73 537.62 552.11 565.95 581.30 595.40 609.52 624.67 639.76 654.80 669.89 684.98 699.39 713.46 727.55 742.09 757.24 772.39 787.54 802.07 816.14 830.23 844.88 860.10 875.25 890.34 905.43" y="0" font-size="26.12">Timestamp Intervals - AU001T_20251015_083403_268077</text>
<text transform="translate(0,64.00) scale(1.0872,1)" x="355.36 363.81 367.61 373.59 378.87 388.69 394.74 398.55 411.68 421.08 430.70 434.95 439.58 445.18 454.07 458.94 464.96 469.01 479.25 484.53 494.35 500.59 509.30 518.98 522.74 531.10 535.91 548.66 553.29 558.68 568.55 572.59 582.26 588.39 600.02 604.83 610.48 620.20 625.32 630.70 636.58 646.29 660.89 670.54 676.65 681.71 686.59 696.30 705.96 715.62 720.31 729.71" y="0" font-size="17.42">Jitter Quality (intervals within +/-1 frame): 100.0%</text>
<text transform="translate(0,85.70) scale(1.0656,1)" x="285.86 298.34 304.20 313.88 323.73 333.47 343.20 353.02 356.05 366.37 372.00 381.97 396.81 406.51 410.02 422.22 432.08 437.52 447.21 452.19 458.31 462.50 472.90 478.34 488.32 494.72 503.62 513.45 517.30 525.81 532.17 543.97 553.84 559.06 564.56 570.60 580.56 595.41 604.81 613.32 618.43 622.45 632.67 638.11 647.80 652.79 665.71 670.44 676.00 686.00 690.19 700.00 704.97 714.83 724.64 727.96 738.28 747.40 752.62 758.03 762.37 766.44 775.84 784.45 790.68 795.84 800.81 810.62 815.57 824.97" y="0" font-size="17.42">Dropped Frame Rate (intervals &gt;1 frames late within 50 FF files): 0.0%</text>
<text transform="translate(0,97.60) scale(1.0708,1)" x="59.97 72.35 84.59 90.91" y="0" font-size="21.25">10.4</text>
<text transform="translate(0,327.60) scale(1.0708,1)" x="59.97 72.35 84.59 90.91" y="0" font-size="21.25">10.3</text>
<text transform="translate(0,558.60) scale(1.0708,1)" x="59.97 72.35 84.59 90.91" y="0" font-size="21.25">10.2</text>
<text transform="translate(51.9,325) rotate(-90) translate(0,0.00) scale(1.0640,1)" x="-93.61 -87.65 -74.63 -67.79 -55.26 -47.21 -36.01 -23.62 -18.78 -8.13 -1.80 5.30 15.86 27.92 38.71 50.87 63.26 75.21 85.96" y="0" font-size="21.77">Intervals (seconds)</text>
<text transform="translate(0,113.80) scale(1.0734,1)" x="725.60 735.38 743.13 751.57 759.80 767.82 772.53 780.98 789.54 793.90 799.14 807.76 816.33 820.69 829.31 837.92 846.21 853.64 858.83 863.14 867.50 872.75 881.30 889.81 894.17 902.79 911.41 920.03 928.64 937.21 941.75 946.35 954.63 962.06" y="0" font-size="15.11">Expected (10.240s), (25.00000 fps)</text>
<text transform="translate(0,135.00) scale(1.0920,1)" x="713.39 725.59 733.74 742.36 745.85 754.21 762.66 766.94 772.06 780.53 788.99 793.24 801.71 810.18 818.64 824.00 834.09 838.37 843.36 847.62 856.07 860.32 868.79 877.26 885.72 889.65 896.98 902.09 906.32 910.60 915.73 924.20 932.65 936.85 945.26 953.73 962.15 970.50 978.90 984.26 994.35 998.63 1003.63 1007.88 1016.33 1020.58 1029.05 1037.51 1041.98 1046.45 1054.61 1061.93" y="0" font-size="15.11">Median (10.247 +/- 0.000 s), (24.98236 +/- 0.00 fps)</text>
<text transform="translate(0,156.20) scale(1.0890,1)" x="716.11 721.14 729.73 734.32 738.81 746.99 754.29 758.29 762.36 771.33 775.95 784.52 790.03 797.70 806.25 809.84 814.13 819.28 827.77 836.24 840.51 849.01 857.50 865.67 873.02" y="0" font-size="15.11">-1/fps Interval (10.200s)</text>
<text transform="translate(0,177.50) scale(1.1053,1)" x="706.70 716.58 725.07 729.59 733.95 742.10 749.27 753.17 757.24 766.06 770.58 779.05 784.46 792.01 800.47 804.01 808.23 813.27 821.64 830.02 834.19 842.56 850.85 859.00 866.32" y="0" font-size="15.11">+1/fps Interval (10.280s)</text>
<text transform="translate(0,199.00) scale(1.0874,1)" x="717.00 721.07 730.05 734.68 743.26 748.78 756.46 765.02 768.31 775.64 779.89 784.37 797.15 805.68 813.45 817.75 822.90 831.41 839.89 844.17 852.62 861.07 869.25 876.60 881.73 885.99 890.47 903.54 907.16 915.65 919.94 925.10 933.60 942.08 946.36 954.87 963.37 971.56 978.91" y="0" font-size="15.11">Intervals, max (10.257s), min (10.240s)</text>
<text transform="translate(0,220.20) scale(1.0308,1)" x="755.19 764.96 773.10 780.43 788.22 792.19 801.20 804.98 813.63 817.91 829.04 834.39 843.12 852.09 860.88 869.68 878.51 881.57 890.52 895.99 905.18 918.49 926.91" y="0" font-size="15.11">Possible Dropped Frames</text>
<text transform="translate(0,843.00) scale(1.0798,1)" x="173.35 185.68 198.07 204.49 216.76" y="0" font-size="21.25">09:00</text>
<text transform="translate(0,843.00) scale(1.0775,1)" x="263.80 276.10 288.45 294.89 307.19" y="0" font-size="21.25">10:00</text>
<text transform="translate(0,843.00) scale(1.0775,1)" x="352.90 365.19 377.55 383.99 396.28" y="0" font-size="21.25">11:00</text>
<text transform="translate(0,843.00) scale(1.0775,1)" x="442.92 455.21 467.57 474.01 486.30" y="0" font-size="21.25">12:00</text>
<text transform="translate(0,843.00) scale(1.0775,1)" x="532.94 545.23 557.59 564.03 576.32" y="0" font-size="21.25">13:00</text>
<text transform="translate(0,843.00) scale(1.0775,1)" x="622.96 635.25 647.61 654.05 666.34" y="0" font-size="21.25">14:00</text>
<text transform="translate(0,843.00) scale(1.0775,1)" x="712.05 724.34 736.70 743.14 755.43" y="0" font-size="21.25">15:00</text>
<text transform="translate(0,843.00) scale(1.0798,1)" x="800.33 812.66 825.05 831.47 843.74" y="0" font-size="21.25">16:00</text>
<text transform="translate(0,843.00) scale(1.0775,1)" x="892.09 904.39 916.74 923.18 935.47" y="0" font-size="21.25">17:00</text>
<text transform="translate(0,843.00) scale(1.0753,1)" x="984.23 996.49 1008.81 1015.27 1027.59" y="0" font-size="21.25">18:00</text>
<text transform="translate(0,616.60) scale(1.0708,1)" x="47.60 59.84 66.16 78.54 90.91" y="0" font-size="21.25">0.015</text>
<text transform="translate(0,680.60) scale(1.0708,1)" x="47.60 59.84 66.16 78.54 90.91" y="0" font-size="21.25">0.010</text>
<text transform="translate(0,744.60) scale(1.0708,1)" x="47.60 59.84 66.16 78.54 90.91" y="0" font-size="21.25">0.005</text>
<text transform="translate(0,807.60) scale(1.0708,1)" x="47.60 59.84 66.16 78.54 90.91" y="0" font-size="21.25">0.000</text>
<text transform="translate(38.2,695.5) rotate(-90) translate(0,0.00) scale(1.0330,1)" x="-101.92 -86.67 -74.90 -63.77 -58.15 -45.38 -32.86 -20.21 -15.12 -4.23 2.30 9.68 20.57 32.98 44.10 56.63 69.39 81.68 92.70" y="0" font-size="21.77">Residuals (seconds)</text>
<text transform="translate(0,872.00) scale(0.9976,1)" x="595.09 608.41 614.85 634.47 647.27 654.03 660.93 676.06 688.89 704.14" y="0" font-size="21.77">Time (UTC)</text>
</g>
</svg></body></html>
